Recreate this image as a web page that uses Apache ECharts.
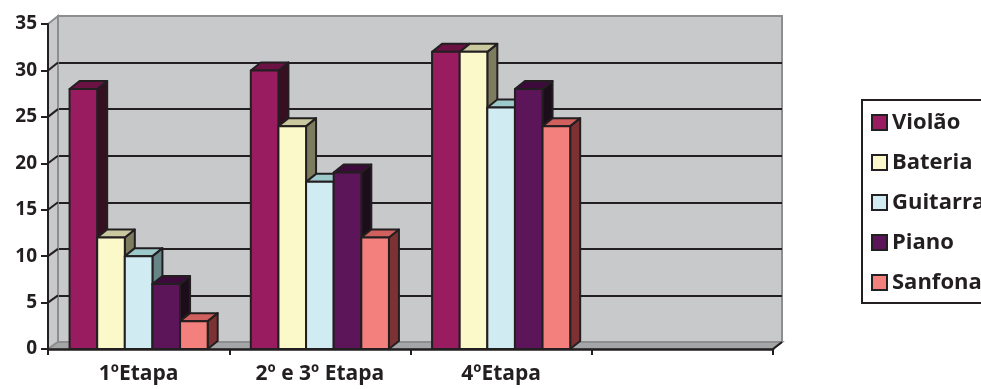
<!DOCTYPE html>
<html>
<head>
<meta charset="utf-8">
<script src="https://cdn.jsdelivr.net/npm/echarts@6/dist/echarts.min.js"></script>
<style>
  html, body { margin: 0; padding: 0; background: #ffffff; }
  #chart { width: 981px; height: 389px; }
</style>
</head>
<body>
<div id="chart"></div>
<script>
// Stages (the fourth slot is an empty category, as in the layout)
const categories = ['1ºEtapa', '2º e 3º Etapa', '4ºEtapa', ''];
const seriesNames = ['Violão', 'Bateria', 'Guitarra', 'Piano', 'Sanfona'];

// Number of students per instrument and stage
const violao   = [28, 30, 32];
const bateria  = [12, 24, 32];
const guitarra = [10, 18, 26];
const piano    = [7, 19, 28];
const sanfona  = [3, 12, 24];

const yMin = 0, yMax = 35, yStep = 5;

const seriesValues = [violao, bateria, guitarra, piano, sanfona];

// Face colours: front, top, side
const frontColors = ['#9A1C60', '#FBF9CA', '#D0EBF1', '#5B1558', '#F3807D'];
const topColors   = ['#6B1244', '#C9C89E', '#9EC9CB', '#3C0A3B', '#D0605D'];
const sideColors  = ['#361021', '#7D7C5E', '#678587', '#1C0D1B', '#7C3232'];

const FONT = '"Open Sans", sans-serif';
const INK = '#231F20';
const WALL = '#C8C9CB';
const WALL_EDGE = '#8E8E8E';
const DX = 10, DY = -8;          // depth offset of the 3D bars
const GROUP_FRACTION = 0.762;    // share of a category band taken by the bar cluster

function makeRender(k) {
  return function (params, api) {
    const ci = api.value(0);
    const v = api.value(1);
    const band = api.size([1, 0])[0];
    const groupW = band * GROUP_FRACTION;
    const bw = groupW / seriesNames.length;
    const base = api.coord([ci, 0]);
    const top = api.coord([ci, v]);
    const x0 = base[0] - groupW / 2 + k * bw;
    const x1 = x0 + bw;
    const yb = base[1], yt = top[1];
    const st = (fill) => ({ fill: fill, stroke: INK, lineWidth: 2, lineJoin: 'round' });
    return {
      type: 'group',
      children: [
        { type: 'polygon', shape: { points: [[x1, yt], [x1 + DX, yt + DY], [x1 + DX, yb + DY], [x1, yb]] }, style: st(sideColors[k]) },
        { type: 'polygon', shape: { points: [[x0, yt], [x0 + DX, yt + DY], [x1 + DX, yt + DY], [x1, yt]] }, style: st(topColors[k]) },
        { type: 'rect', shape: { x: x0, y: yt, width: bw, height: yb - yt }, style: st(frontColors[k]) }
      ]
    };
  };
}

const chart = echarts.init(document.getElementById('chart'), null, { renderer: 'canvas' });

const option = {
  animation: false,
  backgroundColor: '#ffffff',
  grid: [
    // front plane: axes and bars
    { left: 48, right: 208, top: 24, bottom: 40 },
    // back wall
    { left: 58, right: 199, top: 16, bottom: 47, show: true, backgroundColor: WALL, borderColor: WALL_EDGE, borderWidth: 2 }
  ],
  xAxis: [
    {
      type: 'category', gridIndex: 0, data: categories, z: 5,
      axisLine: { lineStyle: { color: INK, width: 2.5 } },
      axisTick: { show: true, length: 6, lineStyle: { color: INK, width: 2 } },
      axisLabel: { margin: 15, fontFamily: FONT, fontWeight: 'bold', fontSize: 21, color: INK, interval: 0 },
      splitLine: { show: false }
    },
    { type: 'category', gridIndex: 1, data: categories, show: false }
  ],
  yAxis: [
    {
      type: 'value', gridIndex: 0, min: yMin, max: yMax, interval: yStep, z: 5,
      axisLine: { show: true, lineStyle: { color: INK, width: 2 } },
      axisTick: { show: true, length: 7, lineStyle: { color: INK, width: 2 } },
      axisLabel: { margin: 11, fontFamily: FONT, fontWeight: 'bold', fontSize: 19, color: INK },
      splitLine: { show: false }
    },
    {
      type: 'value', gridIndex: 1, min: yMin, max: yMax, interval: yStep,
      axisLine: { show: false }, axisTick: { show: false }, axisLabel: { show: false },
      splitLine: { show: true, showMinLine: false, showMaxLine: false, lineStyle: { color: INK, width: 2 } }
    }
  ],
  legend: {
    orient: 'vertical', left: 862, top: 100,
    padding: [11, 12, 9, 9],
    itemWidth: 15, itemHeight: 15, itemGap: 17,
    borderColor: INK, borderWidth: 2, borderRadius: 0,
    icon: 'rect', selectedMode: false,
    itemStyle: { borderColor: INK, borderWidth: 2 },
    textStyle: { fontFamily: FONT, fontWeight: 'bold', fontSize: 22, lineHeight: 23, color: INK },
    data: seriesNames.map((n, i) => ({ name: n, itemStyle: { color: frontColors[i], borderColor: INK, borderWidth: 2 } }))
  },
  series: seriesNames.map((name, k) => ({
    name: name,
    type: 'custom',
    xAxisIndex: 0, yAxisIndex: 0,
    z: 3,
    itemStyle: { color: frontColors[k] },
    encode: { x: 0, y: 1 },
    renderItem: makeRender(k),
    data: seriesValues[k].map((v, i) => [i, v])
  }))
};

chart.setOption(option);

// Side wall, floor and receding grid lines, placed from the two grids' scales
(function addDepth() {
  const fy = (v) => chart.convertToPixel({ yAxisIndex: 0 }, v);
  const by = (v) => chart.convertToPixel({ yAxisIndex: 1 }, v);
  const r0 = chart.getModel().getComponent('grid', 0).coordinateSystem.getRect();
  const r1 = chart.getModel().getComponent('grid', 1).coordinateSystem.getRect();
  const fl = r0.x, fr = r0.x + r0.width, bl = r1.x, br = r1.x + r1.width;
  const elems = [];
  // left side wall
  elems.push({
    type: 'polygon', z: 1,
    shape: { points: [[fl, fy(yMax)], [bl, by(yMax)], [bl, by(yMin)], [fl, fy(yMin)]] },
    style: { fill: WALL, stroke: WALL_EDGE, lineWidth: 2 }
  });
  // floor
  elems.push({
    type: 'polygon', z: 1,
    shape: { points: [[fl, fy(yMin)], [bl, by(yMin)], [br, by(yMin)], [fr, fy(yMin)]] },
    style: { fill: '#A4A5A7', stroke: WALL_EDGE, lineWidth: 2 }
  });
  // grid lines receding across the side wall
  for (let v = yMin + yStep; v < yMax; v += yStep) {
    elems.push({
      type: 'line', z: 1,
      shape: { x1: fl, y1: fy(v), x2: bl, y2: by(v) },
      style: { stroke: INK, lineWidth: 2 }
    });
  }
  // right end of the floor edge
  elems.push({
    type: 'line', z: 6,
    shape: { x1: fr, y1: fy(yMin), x2: br, y2: by(yMin) },
    style: { stroke: INK, lineWidth: 2 }
  });
  chart.setOption({ graphic: { elements: elems } });
})();
</script>
</body>
</html>
